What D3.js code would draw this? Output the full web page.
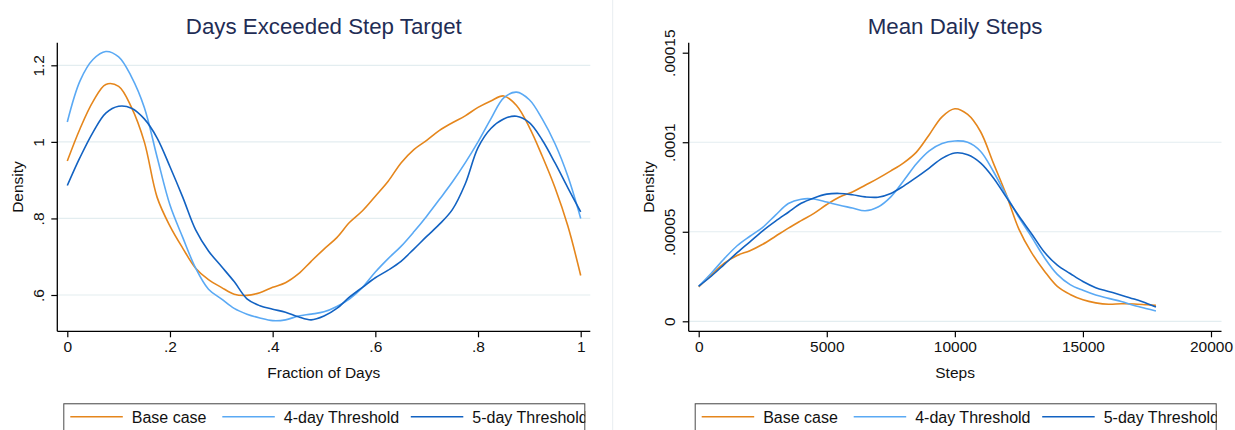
<!DOCTYPE html>
<html>
<head>
<meta charset="utf-8">
<script src="https://cdn.jsdelivr.net/npm/d3@7"></script>
<style>
  body { margin: 0; background: #fff; }
  svg { display: block; font-family: "Liberation Sans", Arial, sans-serif; }
</style>
</head>
<body>
<script>
//Data///////////////////////////////////////////////////////////////////////////////////////////

const seriesNames = ["Base case", "4-day Threshold", "5-day Threshold"];

// left panel: density of fraction of days over the step target
const fractionGrid = [0, .025, .05, .075, .1, .125, .15, .175, .2, .225, .25, .275, .3, .325, .35, .375,
  .4, .425, .45, .475, .5, .525, .55, .575, .6, .625, .65, .675, .7, .725, .75, .775, .8, .825, .85, .875,
  .9, .925, .95, .975, 1];
const fractionBase = [0.95, 1.035, 1.105, 1.15, 1.145, 1.09, 1.0, 0.855, 0.78, 0.722, 0.67, 0.64, 0.62, 0.602, 0.599, 0.606,
  0.62, 0.632, 0.655, 0.688, 0.72, 0.75, 0.79, 0.82, 0.858, 0.897, 0.945, 0.98, 1.004, 1.03, 1.05, 1.068, 1.09, 1.107, 1.12, 1.095,
  1.038, 0.963, 0.88, 0.78, 0.651];
const fraction4day = [1.052, 1.16, 1.215, 1.236, 1.222, 1.17, 1.09, 0.96, 0.835, 0.75, 0.67, 0.615, 0.59, 0.565, 0.55, 0.54,
  0.533, 0.535, 0.545, 0.55, 0.556, 0.57, 0.59, 0.62, 0.66, 0.695, 0.727, 0.765, 0.806, 0.85, 0.895, 0.945, 1.0, 1.06, 1.115, 1.13,
  1.11, 1.06, 0.995, 0.91, 0.80];
const fraction5day = [0.886, 0.96, 1.025, 1.075, 1.093, 1.088, 1.06, 1.01, 0.935, 0.855, 0.77, 0.715, 0.675, 0.635, 0.59, 0.572,
  0.563, 0.555, 0.543, 0.535, 0.545, 0.565, 0.595, 0.62, 0.645, 0.665, 0.688, 0.72, 0.753, 0.785, 0.823, 0.89, 0.985, 1.035, 1.06, 1.067,
  1.05, 1.005, 0.945, 0.88, 0.817];

// right panel: density of mean daily steps (values in units of 1e-5)
const stepsGrid = [0, 500, 1000, 1500, 2000, 2500, 3000, 3500, 4000, 4500, 5000, 5500, 6000, 6500, 7000, 7500, 8000, 8500,
  9000, 9500, 10000, 10500, 11000, 11500, 12000, 12500, 13000, 13500, 14000, 14500, 15000, 15500, 16000, 16500, 17000, 17500, 17850];
const stepsBase = [1.92, 2.6, 3.25, 3.68, 3.94, 4.3, 4.75, 5.2, 5.62, 6.03, 6.52, 6.94, 7.22, 7.6, 7.98, 8.4, 8.85, 9.45,
  10.42, 11.42, 11.87, 11.55, 10.6, 8.85, 7.1, 5.15, 3.82, 2.8, 1.95, 1.5, 1.2, 1.03, 0.95, 0.98, 0.97, 0.92, 0.89];
const steps4day = [1.96, 2.7, 3.5, 4.22, 4.75, 5.25, 5.93, 6.58, 6.82, 6.83, 6.66, 6.48, 6.33, 6.17, 6.38, 6.95, 7.85, 8.8,
  9.52, 9.93, 10.07, 10.0, 9.5, 8.38, 7.05, 5.8, 4.7, 3.55, 2.62, 2.05, 1.73, 1.47, 1.28, 1.1, 0.88, 0.7, 0.58];
const steps5day = [1.96, 2.53, 3.18, 3.83, 4.44, 5.05, 5.59, 6.09, 6.59, 6.89, 7.1, 7.14, 7.07, 6.95, 6.93, 7.14, 7.55, 8.04,
  8.56, 9.1, 9.4, 9.3, 8.85, 8.02, 6.95, 5.88, 4.88, 3.85, 3.14, 2.67, 2.22, 1.88, 1.67, 1.46, 1.24, 1.0, 0.8];
const stepsUnit = 1e-5;

// ticks
const fractionTicks = [0, .2, .4, .6, .8, 1];
const fractionTickLabels = ["0", ".2", ".4", ".6", ".8", "1"];
const fractionDensTicks = [.6, .8, 1, 1.2];
const fractionDensLabels = [".6", ".8", "1", "1.2"];
const stepsTicks = [0, 5000, 10000, 15000, 20000];
const stepsTickLabels = ["0", "5000", "10000", "15000", "20000"];
const stepsDensTicks = [0, .00005, .0001, .00015];
const stepsDensLabels = ["0", ".00005", ".0001", ".00015"];

//Layout/////////////////////////////////////////////////////////////////////////////////////////

var colors = ["#e5861c", "#5aa9f4", "#1262c2"];
var gridColor = "#e3edf0";
var titleColor = "#1f2d55";

var svg = d3.select("body").append("svg")
    .attr("width", 1235)
    .attr("height", 430);

svg.append("rect").attr("width", 1235).attr("height", 430).attr("fill", "#fff");

// faint border between the two graphs
svg.append("line")
    .attr("x1", 612.7).attr("x2", 612.7).attr("y1", 0).attr("y2", 430)
    .attr("stroke", "#e8edf0").attr("stroke-width", 1);

var panels = [
  {
    title: "Days Exceeded Step Target", xTitle: "Fraction of Days",
    xs: fractionGrid, ys: [fractionBase, fraction4day, fraction5day], unit: 1,
    xTicks: fractionTicks, xLabels: fractionTickLabels,
    yTicks: fractionDensTicks, yLabels: fractionDensLabels, grid: fractionDensTicks,
    xDomain: [0, 1], xRange: [67.3, 580.7],
    yDomain: [0.6, 1.2], yRange: [295, 65.3],
    left: 57.3, right: 590.3, top: 42.7, bottom: 331.3,
    yTitleX: 22.7, legendX: 63.3
  },
  {
    title: "Mean Daily Steps", xTitle: "Steps",
    xs: stepsGrid, ys: [stepsBase, steps4day, steps5day], unit: stepsUnit,
    xTicks: stepsTicks, xLabels: stepsTickLabels,
    yTicks: stepsDensTicks, yLabels: stepsDensLabels, grid: [0, .00005, .0001],
    xDomain: [0, 20000], xRange: [698.7, 1211],
    yDomain: [0, 0.00015], yRange: [321.3, 52.7],
    left: 688.7, right: 1221.5, top: 42.7, bottom: 331.3,
    yTitleX: 654, legendX: 694.7
  }
];

var line = d3.line().curve(d3.curveCatmullRom.alpha(0.5));

panels.forEach(function(p, pi) {
  var x = d3.scaleLinear().domain(p.xDomain).range(p.xRange);
  var y = d3.scaleLinear().domain(p.yDomain).range(p.yRange);
  var g = svg.append("g");
  var cx = (p.left + p.right) / 2;

  // gridlines
  g.selectAll(".grid").data(p.grid).enter().append("line")
      .attr("x1", p.left).attr("x2", p.right)
      .attr("y1", function(d) { return y(d); })
      .attr("y2", function(d) { return y(d); })
      .attr("stroke", gridColor).attr("stroke-width", 1.2);

  // density curves
  p.ys.forEach(function(vals, si) {
    var pts = p.xs.map(function(v, i) { return [x(v), y(vals[i] * p.unit)]; });
    g.append("path")
        .attr("d", line(pts))
        .attr("fill", "none")
        .attr("stroke", colors[si])
        .attr("stroke-width", 1.6)
        .attr("stroke-linejoin", "round");
  });

  // x axis
  var xAxis = g.append("g")
      .attr("transform", "translate(0," + p.bottom + ")")
      .call(d3.axisBottom(x).tickValues(p.xTicks)
          .tickFormat(function(d, i) { return p.xLabels[i]; })
          .tickSize(6).tickSizeOuter(0));
  xAxis.select(".domain").remove();
  xAxis.selectAll(".tick line").attr("stroke", "#000").attr("stroke-width", 1.2);
  xAxis.selectAll(".tick text")
      .attr("y", 20.7).attr("dy", 0)
      .attr("fill", "#111")
      .style("font-size", "15.5px")
      .style("font-family", "Liberation Sans, Arial, sans-serif");

  // y axis
  var yAxis = g.append("g")
      .attr("transform", "translate(" + p.left + ",0)")
      .call(d3.axisLeft(y).tickValues(p.yTicks)
          .tickFormat(function(d, i) { return p.yLabels[i]; })
          .tickSize(6).tickSizeOuter(0));
  yAxis.select(".domain").remove();
  yAxis.selectAll(".tick line").attr("stroke", "#000").attr("stroke-width", 1.2);
  yAxis.selectAll(".tick text")
      .attr("x", 0).attr("y", -13.7).attr("dy", 0)
      .attr("transform", "rotate(-90)")
      .attr("text-anchor", "middle")
      .attr("fill", "#111")
      .style("font-size", "15.5px")
      .style("font-family", "Liberation Sans, Arial, sans-serif");

  // axis lines
  g.append("line")
      .attr("x1", p.left).attr("x2", p.right).attr("y1", p.bottom).attr("y2", p.bottom)
      .attr("stroke", "#000").attr("stroke-width", 1.3);
  g.append("line")
      .attr("x1", p.left).attr("x2", p.left).attr("y1", p.top).attr("y2", p.bottom)
      .attr("stroke", "#000").attr("stroke-width", 1.3);

  // titles
  g.append("text")
      .attr("x", cx).attr("y", 33.5)
      .attr("text-anchor", "middle")
      .attr("fill", titleColor)
      .style("font-size", "22.3px")
      .text(p.title);
  g.append("text")
      .attr("x", cx).attr("y", 377.5)
      .attr("text-anchor", "middle")
      .attr("fill", "#111")
      .style("font-size", "15.5px")
      .text(p.xTitle);
  g.append("text")
      .attr("transform", "translate(" + p.yTitleX + "," + ((p.top + p.bottom) / 2) + ") rotate(-90)")
      .attr("text-anchor", "middle")
      .attr("fill", "#111")
      .style("font-size", "15.5px")
      .text("Density");

  // legend
  var lw = 522, ly = 403.3;
  var clipId = "legclip" + pi;
  svg.append("clipPath").attr("id", clipId)
    .append("rect").attr("x", p.legendX).attr("y", ly).attr("width", lw).attr("height", 40);
  var leg = g.append("g").attr("clip-path", "url(#" + clipId + ")");
  leg.append("rect")
      .attr("x", p.legendX).attr("y", ly).attr("width", lw).attr("height", 40)
      .attr("fill", "#fff").attr("stroke", "#4a4a4a").attr("stroke-width", 2);
  var itemX = [7, 159, 347.5];
  seriesNames.forEach(function(name, si) {
    var x0 = p.legendX + itemX[si];
    leg.append("line")
        .attr("x1", x0).attr("x2", x0 + 52.5)
        .attr("y1", 416.7).attr("y2", 416.7)
        .attr("stroke", colors[si]).attr("stroke-width", 1.6);
    leg.append("text")
        .attr("x", x0 + 61.5).attr("y", 422.7)
        .attr("fill", "#111")
        .style("font-size", "16px")
        .text(name);
  });
});
</script>
</body>
</html>
